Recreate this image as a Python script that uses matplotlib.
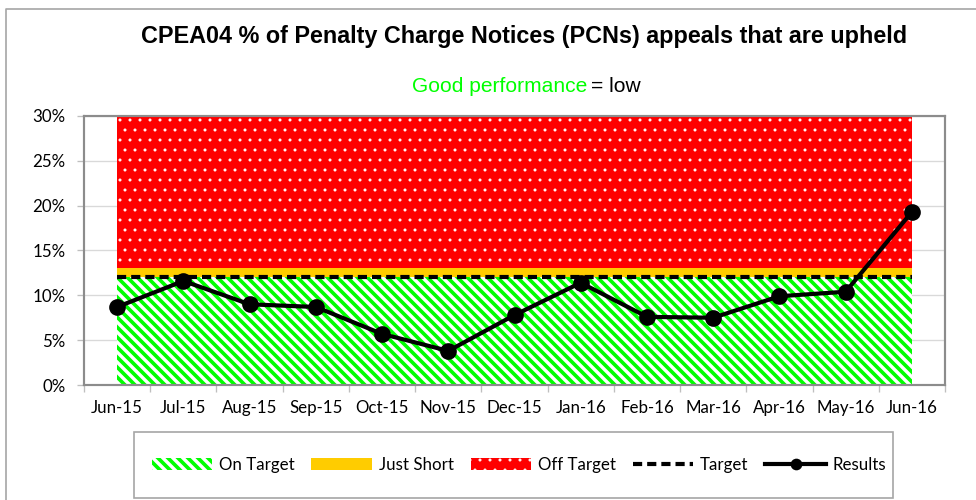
import matplotlib
matplotlib.use('Agg')
import matplotlib.pyplot as plt
import matplotlib.patches as mpatches
from matplotlib.lines import Line2D
from matplotlib.ticker import FixedLocator, FuncFormatter
import numpy as np

# data (percent)
months = ['Jun-15', 'Jul-15', 'Aug-15', 'Sep-15', 'Oct-15', 'Nov-15', 'Dec-15',
          'Jan-16', 'Feb-16', 'Mar-16', 'Apr-16', 'May-16', 'Jun-16']
results = [8.7, 11.6, 9.0, 8.7, 5.7, 3.8, 7.8, 11.4, 7.6, 7.5, 9.9, 10.4, 19.3]
on_target = [12, 12, 12, 12, 12, 12, 12, 12, 12, 12, 12, 12, 12]
just_short = [1, 1, 1, 1, 1, 1, 1, 1, 1, 1, 1, 1, 1]
off_target = [17, 17, 17, 17, 17, 17, 17, 17, 17, 17, 17, 17, 17]
target = [12, 12, 12, 12, 12, 12, 12, 12, 12, 12, 12, 12, 12]
y_ticks = [0, 5, 10, 15, 20, 25, 30]

GREEN = '#00FF00'
YELLOW = '#FFCC00'
RED = '#FF0000'
GREY = '#8C8C8C'
tick_font = 'Lato'
STRIPES = chr(92) * 4   # diagonal hatch, ~10 px period at 120 dpi
DOTS = '..'

W, H = 976, 500
DPI = 120
fig = plt.figure(figsize=(W / DPI, H / DPI), dpi=DPI)
ax = fig.add_axes([84 / W, 1 - 385 / H, (945 - 84) / W, (385 - 116) / H])

x = np.arange(len(months))
g_top = np.array(on_target, dtype=float)
y_top = g_top + np.array(just_short)
r_top = y_top + np.array(off_target)

# stacked target bands
plt.rcParams['hatch.linewidth'] = 2.2
plt.rcParams['hatch.color'] = GREEN
green = ax.fill_between(x, 0, g_top, facecolor='white', edgecolor=GREEN,
                        hatch=STRIPES, linewidth=0, zorder=1)
if hasattr(green, 'set_hatch_linewidth'):
    green.set_hatch_linewidth(2.2)
ax.fill_between(x, g_top, y_top, facecolor=YELLOW, linewidth=0, zorder=1)
plt.rcParams['hatch.linewidth'] = 0.6
plt.rcParams['hatch.color'] = 'white'
red = ax.fill_between(x, y_top, r_top, facecolor=RED, edgecolor='white',
                      hatch=DOTS, linewidth=0, zorder=1)
if hasattr(red, 'set_hatch_linewidth'):
    red.set_hatch_linewidth(0.6)

# target and results
ax.plot(x, target, color='black', lw=2.5, ls=(0, (2.2, 1.2)), zorder=3)
ax.plot(x, results, color='black', lw=2.5, marker='o', ms=9, zorder=4)

ax.set_xlim(-0.5, len(months) - 0.5)
ax.set_ylim(0, 30)
ax.set_xticks(x)
ax.set_xticklabels(months, fontfamily=tick_font, fontsize=10.1)
ax.xaxis.set_minor_locator(FixedLocator(np.arange(-0.5, len(months), 1)))
ax.tick_params(axis='x', which='major', length=0, pad=9)
ax.tick_params(axis='x', which='minor', length=4, color='#BFBFBF', width=0.8)
ax.set_yticks(y_ticks)
ax.yaxis.set_major_formatter(FuncFormatter(lambda v, p: '%d%%' % v))
for lab in ax.get_yticklabels():
    lab.set_fontfamily(tick_font)
    lab.set_fontsize(10.1)
ax.tick_params(axis='y', length=4, color='#BFBFBF', width=0.8, pad=7)
ax.grid(axis='y', color='#D9D9D9', lw=0.8, zorder=0)
ax.set_axisbelow(True)
for s in ax.spines.values():
    s.set_color(GREY)
    s.set_linewidth(1.3)

# titles
fig.text(524.5 / W, 1 - 37 / H,
         'CPEA04 % of Penalty Charge Notices (PCNs) appeals that are upheld',
         ha='center', va='center', fontsize=14.0, fontweight='bold',
         family='Liberation Sans')
fig.text(587 / W, 1 - 87 / H, 'Good performance', ha='right', va='center',
         fontsize=12.6, color=GREEN, family='Liberation Sans')
fig.text(591 / W, 1 - 87 / H, '= low', ha='left', va='center',
         fontsize=12.6, color='black', family='Liberation Sans')

# chart border (cut off right/bottom) and legend box
fig.add_artist(Line2D([6 / W, 6 / W, 1], [0, 1 - 9 / H, 1 - 9 / H],
                      transform=fig.transFigure, color='#A6A6A6', lw=1.0))
fig.add_artist(mpatches.Rectangle((134 / W, 2 / H), (893 - 134) / W, (498 - 432) / H,
                                  transform=fig.transFigure, fill=False,
                                  edgecolor='#A6A6A6', lw=1.0))

plt.rcParams['hatch.linewidth'] = 2.2
handles = [
    mpatches.Patch(facecolor='white', edgecolor=GREEN, hatch=STRIPES, lw=0),
    mpatches.Patch(facecolor=YELLOW, lw=0),
    mpatches.Patch(facecolor=RED, edgecolor='white', hatch=DOTS, lw=0),
    Line2D([], [], color='black', lw=2.5, ls=(0, (2.2, 1.2))),
    Line2D([], [], color='black', lw=2.5, marker='o', ms=6),
]
labels = ['On Target', 'Just Short', 'Off Target', 'Target', 'Results']
leg = fig.legend(handles, labels, loc='center', bbox_to_anchor=(519 / W, 1 - 465 / H),
                 ncol=5, frameon=False, prop={'family': tick_font, 'size': 10.1},
                 handlelength=3.6, handleheight=0.75, handletextpad=0.4,
                 columnspacing=1.0, borderpad=0)
# the red legend patch gets the thin dot hatch
if hasattr(leg.get_patches()[2], 'set_hatch_linewidth'):
    leg.get_patches()[2].set_hatch_linewidth(0.6)

fig.savefig('out.png', dpi=DPI)
